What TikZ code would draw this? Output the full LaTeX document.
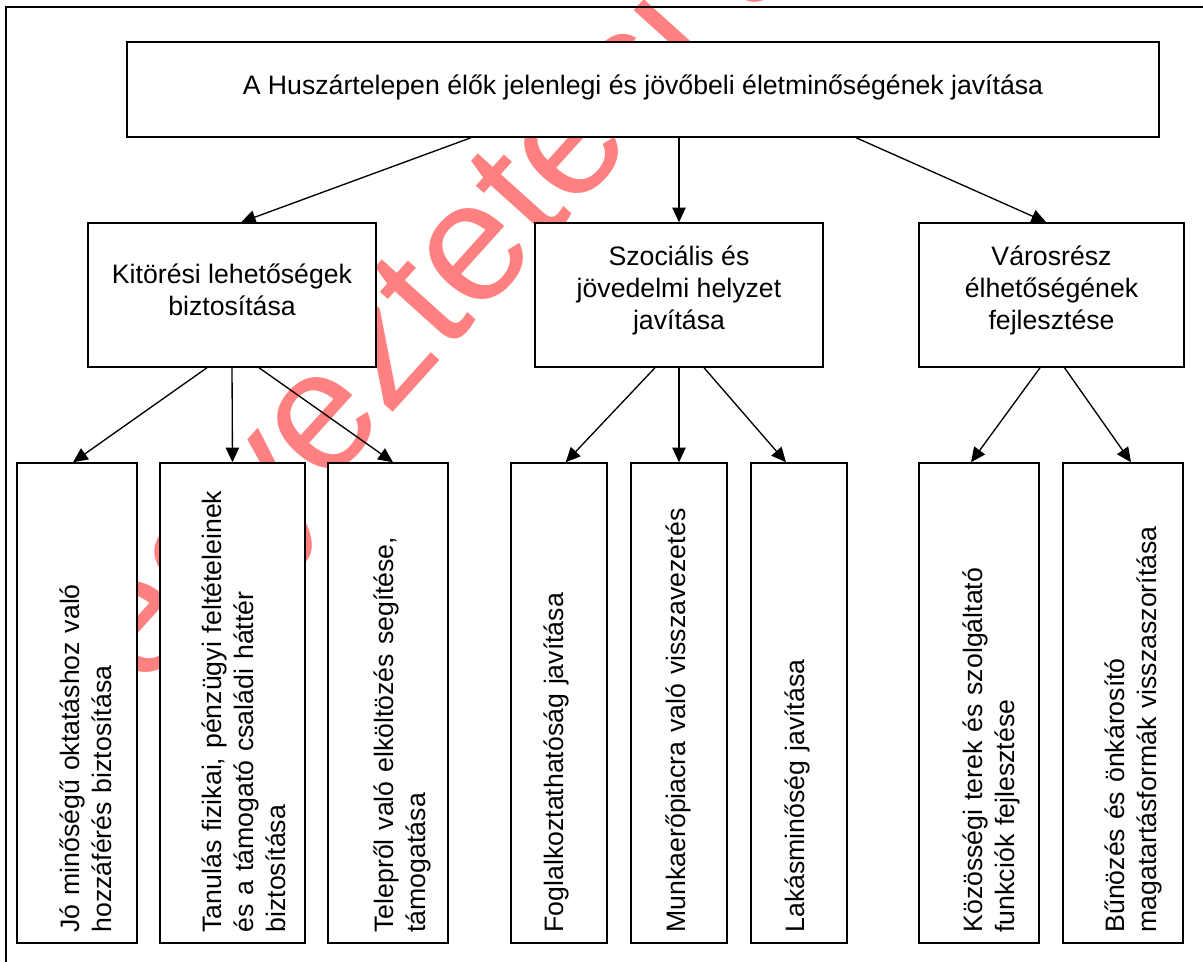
\documentclass[tikz,border=0pt]{standalone}
\usepackage{fontspec}
\setmainfont{Liberation Sans}
\usepackage{xcolor}
\usetikzlibrary{arrows.meta}

\definecolor{draftred}{RGB}{255,128,128}

\tikzset{
  box/.style={draw=black, fill=white, line width=1.1pt, inner sep=0pt},
  lbl/.style={align=center, inner sep=0pt, font=\fontsize{20}{24}\selectfont},
  vlbl/.style={lbl, rotate=90, anchor=base west, align=left, text width=343pt},
  link/.style={->, line width=1pt},
}

\begin{document}
\begin{tikzpicture}[x=0.75pt,y=-0.75pt]
\begin{scope}[>={Triangle[length=11pt,width=10pt]}]

    \clip (0,0) rectangle (1203,962);

    % draft mark under everything
    \node[draftred, rotate=48, anchor=base west, inner sep=0pt,
      font=\fontsize{128}{130}\selectfont] (draft) at (141,693) {egyeztetési anyag};

    \draw[line width=1.5pt] (1203,7) -- (6,7) -- (6,962);

    % top goal
    \node[box, minimum width=774pt, minimum height=71.25pt] (goal) at (643,89.5) {};
    \node[lbl] (goallbl) at ([yshift=1.5pt]goal.center)
      {A Huszártelepen élők jelenlegi és jövőbeli életminőségének javítása};

    % second level
    \node[box, minimum width=216pt, minimum height=108pt] (kit) at (232,295) {};
    \node[box, minimum width=216pt, minimum height=108pt] (szoc) at (679,295) {};
    \node[box, minimum width=198.75pt, minimum height=108pt] (varos) at (1051.5,295) {};
    \node[lbl] (kitlbl) at ([yshift=3.75pt]kit.center) {Kitörési lehetőségek\\biztosítása};
    \node[lbl] (szoclbl) at ([yshift=3.75pt]szoc.center) {Szociális és\\jövedelmi helyzet\\javítása};
    \node[lbl] (varoslbl) at ([yshift=3.75pt]varos.center) {Városrész\\élhetőségének\\fejlesztése};

    % third level
    \node[box, minimum width=90pt, minimum height=360pt] (jo) at (77,703) {};
    \node[box, minimum width=108.75pt, minimum height=360pt] (tan) at (232.5,703) {};
    \node[box, minimum width=90pt, minimum height=360pt] (tel) at (388,703) {};
    \node[box, minimum width=72pt, minimum height=360pt] (fog) at (559,703) {};
    \node[box, minimum width=72pt, minimum height=360pt] (mun) at (679,703) {};
    \node[box, minimum width=72pt, minimum height=360pt] (lak) at (799,703) {};
    \node[box, minimum width=90pt, minimum height=360pt] (koz) at (979,703) {};
    \node[box, minimum width=90pt, minimum height=360pt] (bun) at (1123,703) {};

    \node[vlbl] (jolbl) at ([xshift=47.5pt,yshift=8.25pt]jo.south west)
      {Jó minőségű oktatáshoz való\\hozzáférés biztosítása};
    \node[vlbl] (tanlbl) at ([xshift=46.5pt,yshift=8.25pt]tan.south west)
      {Tanulás fizikai, pénzügyi feltételeinek\\és a támogató családi háttér\\biztosítása};
    \node[vlbl] (tellbl) at ([xshift=49.5pt,yshift=8.25pt]tel.south west)
      {Telepről való elköltözés segítése,\\támogatása};
    \node[vlbl] (foglbl) at ([xshift=40pt,yshift=8.25pt]fog.south west)
      {Foglalkoztathatóság javítása};
    \node[vlbl] (munlbl) at ([xshift=41.25pt,yshift=8.25pt]mun.south west)
      {Munkaerőpiacra való visszavezetés};
    \node[vlbl] (laklbl) at ([xshift=41pt,yshift=8.25pt]lak.south west)
      {Lakásminőség javítása};
    \node[vlbl] (kozlbl) at ([xshift=47.8pt,yshift=8.25pt]koz.south west)
      {Közösségi terek és szolgáltató\\funkciók fejlesztése};
    \node[vlbl] (bunlbl) at ([xshift=46.5pt,yshift=8.25pt]bun.south west)
      {Bűnözés és önkárosító\\magatartásformák visszaszorítása};

    \draw[link] ([xshift=-129pt]goal.south) -- ([xshift=6.75pt]kit.north);
    \draw[link] ([xshift=27pt]goal.south) -- (szoc.north);
    \draw[link] ([xshift=159.75pt]goal.south) -- ([xshift=-4pt]varos.north);

    \draw[link] ([xshift=-18.75pt]kit.south) -- ([xshift=-3pt]jo.north);
    \draw[link] (kit.south) -- (tan.north);
    \draw[link] ([xshift=20.25pt]kit.south) -- ([xshift=3.75pt]tel.north);

    \draw[link] ([xshift=-18pt]szoc.south) -- ([xshift=5pt]fog.north);
    \draw[link] (szoc.south) -- (mun.north);
    \draw[link] ([xshift=18.75pt]szoc.south) -- ([xshift=-9.75pt]lak.north);

    \draw[link] ([xshift=-8.6pt]varos.south) -- ([xshift=-6pt]koz.north);
    \draw[link] ([xshift=9.75pt]varos.south) -- ([xshift=6pt]bun.north);

\end{scope}
\end{tikzpicture}
\end{document}
